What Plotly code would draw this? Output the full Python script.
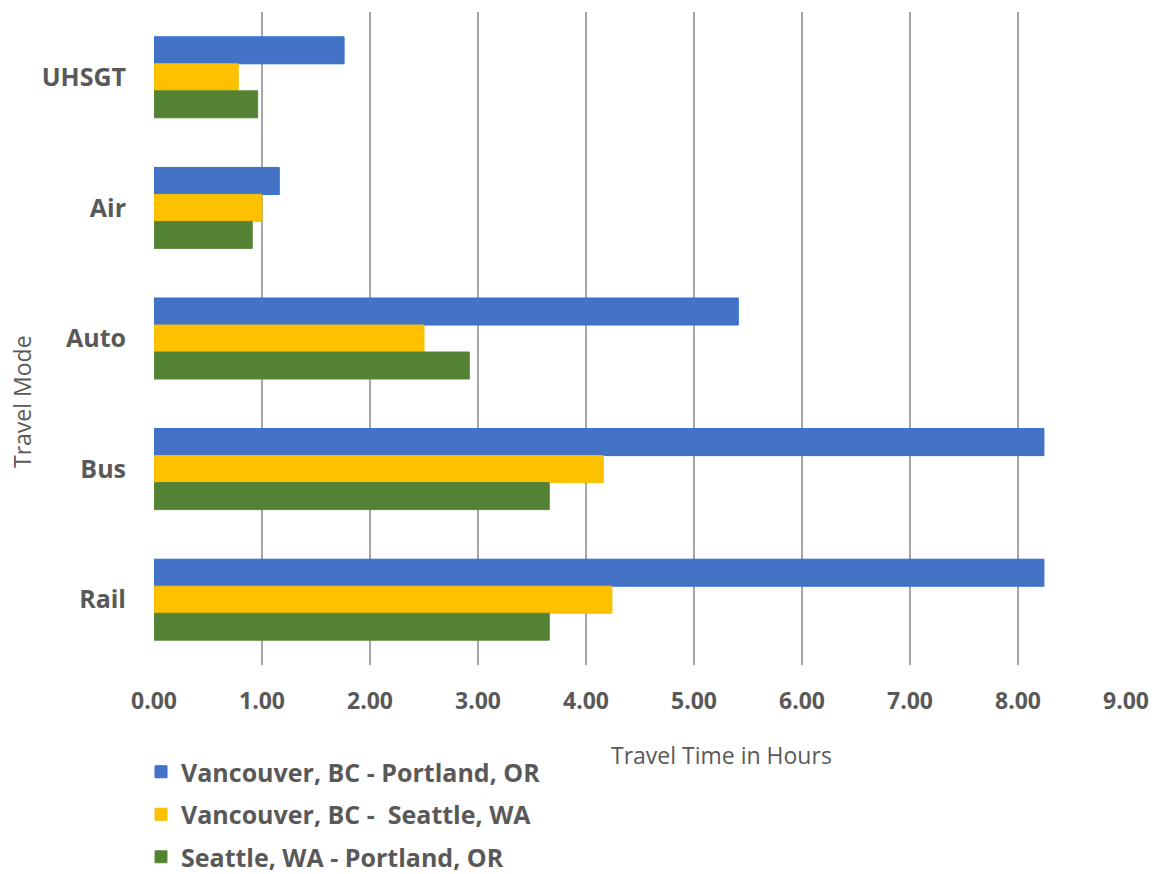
import plotly.graph_objects as go

modes = ["UHSGT", "Air", "Auto", "Bus", "Rail"]
series_names = ["Vancouver, BC - Portland, OR", "Vancouver, BC -  Seattle, WA", "Seattle, WA - Portland, OR"]
van_por = [1.76, 1.16, 5.41, 8.24, 8.24]
van_sea = [0.78, 1.00, 2.50, 4.16, 4.24]
sea_por = [0.96, 0.91, 2.92, 3.66, 3.66]
tick_vals = [0, 1, 2, 3, 4, 5, 6, 7, 8, 9]
tick_text = ["0.00", "1.00", "2.00", "3.00", "4.00", "5.00", "6.00", "7.00", "8.00", "9.00"]

colors = ["#4472C4", "#FFC000", "#548235"]
edges = ["#2F6FD6", "#F5C000", "#5A8A3A"]
gray = "#595959"
font_family = "Open Sans, Noto Sans, sans-serif"

L, R, T, B = 154, 29, 12, 209
W, H = 1155, 874
pw, ph = W - L - R, H - T - B

def px_to_paper(x, y):
    return (x - L) / pw, (H - B - y) / ph

fig = go.Figure()
for name, vals, c, e in zip(series_names, [van_por, van_sea, sea_por], colors, edges):
    fig.add_trace(go.Bar(
        y=modes, x=vals, name=name, orientation="h",
        marker=dict(color=c, line=dict(color=e, width=1)),
        legendgroup=name,
    ))

ax_title_x, ax_title_y = px_to_paper(721, 755)
ay_title_x, ay_title_y = px_to_paper(22, 402)
leg_x, leg_y = px_to_paper(141, 749)

fig.update_layout(
    width=W, height=H,
    barmode="group", bargap=0.38, bargroupgap=0,
    plot_bgcolor="white", paper_bgcolor="white",
    margin=dict(l=L, r=R, t=T, b=B, autoexpand=False),
    font=dict(family=font_family, color=gray),
    xaxis=dict(
        range=[0, 9], tickvals=tick_vals, ticktext=tick_text,
        showgrid=True, gridcolor="#A6A6A6", gridwidth=1.5,
        zeroline=False, showline=False, ticks="", automargin=False,
        tickfont=dict(size=23, color=gray, family=font_family, weight="bold"),
        ticklabelstandoff=20,
    ),
    yaxis=dict(
        categoryorder="array", categoryarray=modes, autorange="reversed",
        showgrid=False, showline=False, zeroline=False, ticks="", automargin=False,
        tickfont=dict(size=25, color=gray, family=font_family, weight="bold"),
        ticklabelstandoff=27,
    ),
    legend=dict(
        orientation="v", x=leg_x, xanchor="left", y=leg_y, yanchor="top",
        font=dict(size=25, color=gray, family=font_family, weight="bold"),
        tracegroupgap=7, itemwidth=30,
        bgcolor="rgba(0,0,0,0)",
    ),
    showlegend=True,
    annotations=[
        dict(text="Travel Time in Hours", x=ax_title_x, y=ax_title_y, xref="paper", yref="paper",
             xanchor="center", yanchor="middle",
             showarrow=False, font=dict(size=23, color=gray, family=font_family)),
        dict(text="Travel Mode", x=ay_title_x, y=ay_title_y, xref="paper", yref="paper",
             xanchor="center", yanchor="middle",
             showarrow=False, textangle=-90, font=dict(size=23, color=gray, family=font_family)),
    ],
)

fig.write_html("out.html")
